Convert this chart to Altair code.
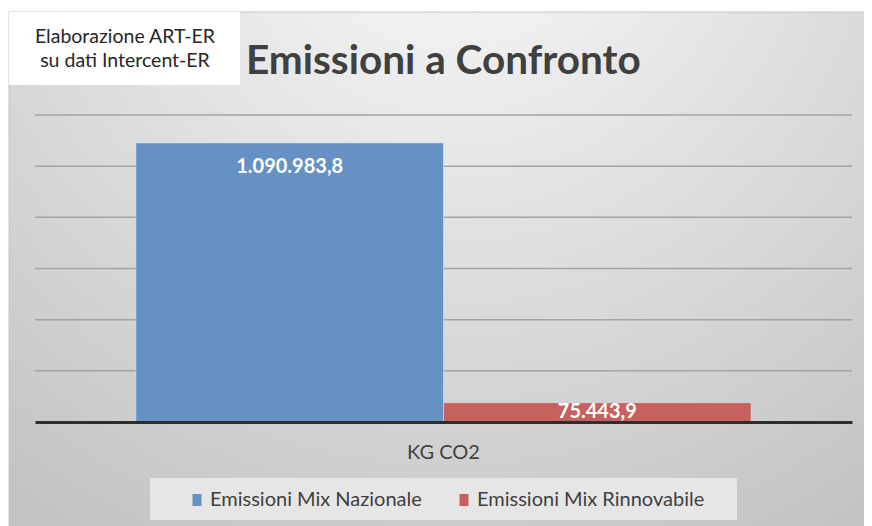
import altair as alt
import pandas as pd

categories = ["KG CO2", "KG CO2"]
series = ["Emissioni Mix Nazionale", "Emissioni Mix Rinnovabile"]
values = [1090983.8, 75443.9]
labels = ["1.090.983,8", "75.443,9"]
grid_values = [200000, 400000, 600000, 800000, 1000000, 1200000]
colors = ["#6591c5", "#c6615e"]

df = pd.DataFrame({"cat": categories, "serie": series, "val": values, "lab": labels})
grid_df = pd.DataFrame({"g": grid_values})

FONT = "Lato"
W, H = 817, 307

yscale = alt.Scale(domain=[0, 1200000], nice=False)
xscale = alt.Scale(paddingInner=0, paddingOuter=0.164)
offscale = alt.Scale(paddingInner=0, paddingOuter=0)

one = alt.Data(values=[{"a": 1}])

bg = alt.Chart(one).mark_rect(
    fill=alt.RadialGradient(
        gradient="radial",
        stops=[alt.GradientStop(offset=0, color="#fbfbfb"),
               alt.GradientStop(offset=1, color="#c3c3c3")],
        x1=0.5, y1=0.05, r1=0, x2=0.5, y2=0.05, r2=0.85),
    stroke="#c4c4c4", strokeWidth=1,
).encode(x=alt.value(-26), x2=alt.value(W + 40), y=alt.value(-103), y2=alt.value(H + 120))

box = alt.Chart(one).mark_rect(fill="white").encode(
    x=alt.value(-26), x2=alt.value(205), y=alt.value(-103), y2=alt.value(-30))

box_t1 = alt.Chart(alt.Data(values=[{"t": "Elaborazione ART-ER"}])).mark_text(
    font=FONT, fontSize=19.5, color="#262626", align="center", baseline="middle"
).encode(x=alt.value(90), y=alt.value(-78), text="t:N")
box_t2 = alt.Chart(alt.Data(values=[{"t": "su dati Intercent-ER"}])).mark_text(
    font=FONT, fontSize=19.5, color="#262626", align="center", baseline="middle"
).encode(x=alt.value(90), y=alt.value(-54), text="t:N")

title = alt.Chart(alt.Data(values=[{"t": "Emissioni a Confronto"}])).mark_text(
    font=FONT, fontSize=40.5, fontWeight="bold", color="#404040", align="left", baseline="middle"
).encode(x=alt.value(211), y=alt.value(-53), text="t:N")

legend_box = alt.Chart(one).mark_rect(fill="#e6e6e6").encode(
    x=alt.value(115), x2=alt.value(702), y=alt.value(363), y2=alt.value(405))

grid = alt.Chart(grid_df).mark_rule(color="#a3a3a3", strokeWidth=1.5).encode(
    y=alt.Y("g:Q", scale=yscale, axis=None))

base = alt.Chart(df)

bars = base.mark_bar(stroke="#dbe4f0", strokeWidth=1, strokeOpacity=0.6).encode(
    x=alt.X("cat:N", scale=xscale,
            axis=alt.Axis(title=None, labelFont=FONT, labelFontSize=20, labelColor="#404040",
                          labelPadding=20, ticks=False, domainColor="#2e2e2e", domainWidth=3,
                          labelAngle=0, zindex=1, grid=False)),
    xOffset=alt.XOffset("serie:N", scale=offscale, sort=series),
    y=alt.Y("val:Q", scale=yscale, axis=None),
    color=alt.Color("serie:N", sort=series, scale=alt.Scale(domain=series, range=colors),
                    legend=alt.Legend(title=None, orient="none", legendX=152, legendY=375,
                                      direction="horizontal", labelFont=FONT, labelFontSize=20,
                                      labelColor="#404040",
                                      symbolType="M-0.75,-1H0.75V1H-0.75Z", symbolSize=144,
                                      symbolStrokeWidth=0, columnPadding=32, padding=0,
                                      labelOffset=3, labelLimit=400)),
)

texts = base.transform_calculate(
    pos="max(datum.val - 95000, datum.val / 2)"
).mark_text(font=FONT, fontSize=20, fontWeight="bold", color="white", baseline="middle").encode(
    x=alt.X("cat:N", scale=xscale),
    xOffset=alt.XOffset("serie:N", scale=offscale, sort=series),
    y=alt.Y("pos:Q", scale=yscale),
    text="lab:N",
)

chart = alt.layer(bg, box, box_t1, box_t2, title, legend_box, grid, bars, texts).properties(
    width=W, height=H,
    autosize=alt.AutoSizeParams(type="none"),
    padding={"left": 27, "top": 107, "right": 12, "bottom": 104},
).configure_view(stroke=None).configure(background="white")

chart.save("out.html", embed_options={"renderer": "svg", "actions": False})
